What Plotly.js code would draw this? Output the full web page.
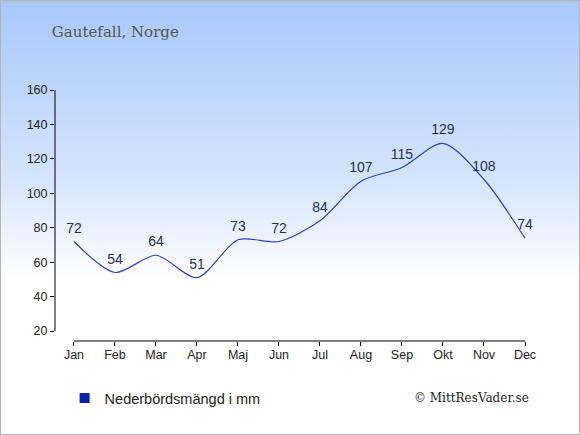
<!DOCTYPE html>
<html>
<head>
<meta charset="utf-8">
<script src="https://cdn.plot.ly/plotly-3.0.1.min.js"></script>
<style>
html,body{margin:0;padding:0;}
#wrap{width:578px;height:433px;border:1px solid #b4b4b4;background:linear-gradient(to bottom,#a8c8fc 0%,#d6e5fd 42%,#ffffff 64%,#ffffff 100%);}
#chart{width:578px;height:433px;}
</style>
</head>
<body>
<div id="wrap"><div id="chart"></div></div>
<script>
var months = ["Jan","Feb","Mar","Apr","Maj","Jun","Jul","Aug","Sep","Okt","Nov","Dec"];
var precip = [72,54,64,51,73,72,84,107,115,129,108,74];
var seriesName = "Nederbördsmängd i mm";
var titleText = "Gautefall, Norge";
var creditText = "© MittResVader.se";

var idx = months.map(function(m,i){return i;});

var main = {
  x: idx, y: precip, mode: "lines+markers+text", type: "scatter",
  line: {shape: "spline", smoothing: 0.8, color: "#3040bb", width: 1.2},
  marker: {size: 7, color: "rgba(0,0,0,0)"},
  text: precip.map(String), textposition: "top center",
  textfont: {family: "Liberation Sans, Arial, sans-serif", size: 14, color: "#1e2f55"},
  showlegend: false, hoverinfo: "none", cliponaxis: false
};
var legendTrace = {
  x: [null], y: [null], mode: "markers", type: "scatter", name: seriesName,
  marker: {symbol: "square", size: 10, color: "#0b1fa8"}, showlegend: true
};

var layout = {
  width: 578, height: 433,
  margin: {l: 54, r: 44, t: 89, b: 93, pad: 0},
  paper_bgcolor: "rgba(0,0,0,0)", plot_bgcolor: "rgba(0,0,0,0)",
  font: {family: "Liberation Sans, Arial, sans-serif", color: "#222"},
  title: {text: titleText, x: 0.088, xanchor: "left", y: 0.928, yanchor: "middle",
          font: {family: "DejaVu Serif, Georgia, serif", size: 15, color: "#555"}},
  xaxis: {range: [-0.463, 11.244], tickmode: "array", tickvals: idx, ticktext: months,
          showgrid: false, zeroline: false, showline: false, ticklabelstandoff: -2,
          ticks: "outside", ticklen: 4, tickcolor: "#000", tickfont: {size: 12.5, color: "#222"}, fixedrange: true},
  yaxis: {range: [14.2, 160], tick0: 20, dtick: 20, showgrid: false, zeroline: false, showline: false,
          ticks: "outside", ticklen: 4, tickcolor: "#000", tickfont: {size: 12.5, color: "#222"}, fixedrange: true},
  shapes: [
    {type: "line", xref: "paper", x0: 0, x1: 0, yref: "y", y0: 20, y1: 160, line: {color: "#000", width: 1}},
    {type: "line", xref: "x", x0: 0, x1: idx.length - 1, yref: "paper", y0: 0, y1: 0, line: {color: "#000", width: 1}}
  ],
  showlegend: true,
  legend: {orientation: "h", x: 0.02, xanchor: "left", y: -0.227, yanchor: "middle",
           bgcolor: "rgba(0,0,0,0)", font: {size: 14.5, color: "#222"}, itemwidth: 30},
  annotations: [{text: creditText, xref: "paper", yref: "paper", x: 0.868, y: -0.227,
                 xanchor: "center", yanchor: "middle", showarrow: false,
                 font: {family: "DejaVu Serif, Georgia, serif", size: 12, color: "#222"}}]
};

Plotly.newPlot("chart", [main, legendTrace], layout, {displayModeBar: false, staticPlot: true});
</script>
</body>
</html>
